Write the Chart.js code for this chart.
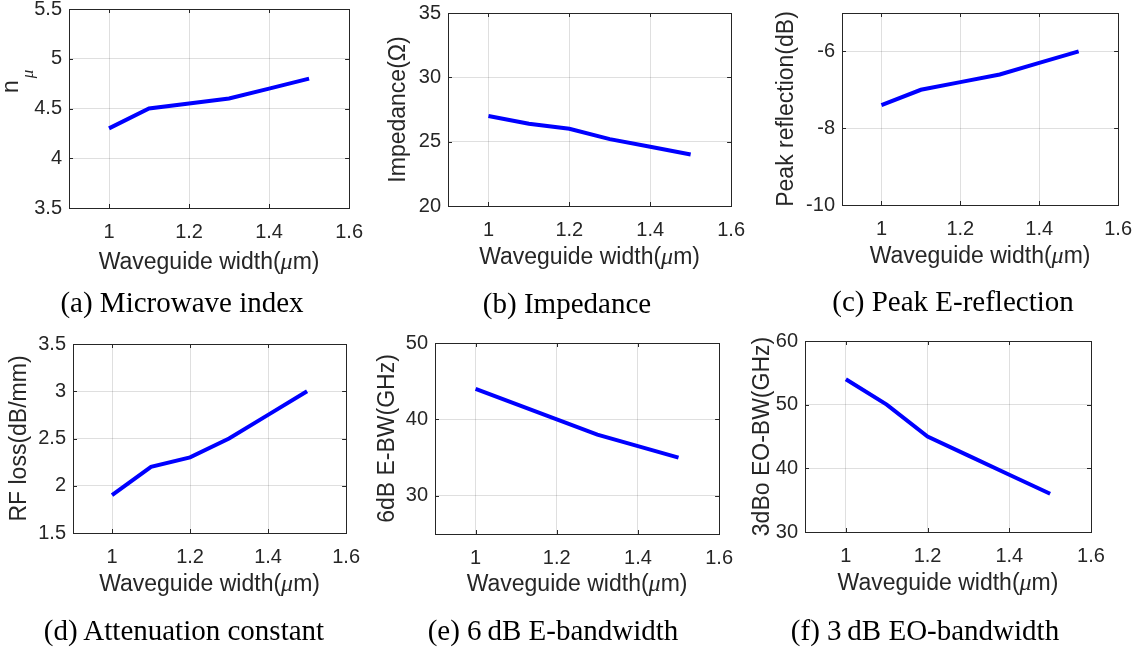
<!DOCTYPE html>
<html>
<head>
<meta charset="utf-8">
<script src="https://cdn.jsdelivr.net/npm/chart.js@4.4.0/dist/chart.umd.min.js"></script>
<style>
  body { margin: 0; background: #fff; width: 1144px; height: 654px; overflow: hidden; position: relative; }
  canvas { position: absolute; }
  .cap { position: absolute; font-family: 'Liberation Serif', 'Times New Roman', serif; font-size: 29px;
         line-height: 34px; color: #000; white-space: nowrap; transform: translate(-50%, -50%); }
</style>
</head>
<body>
<script>
var widths = [1.0, 1.1, 1.2, 1.3, 1.4, 1.5];
var xTicks = [1, 1.2, 1.4, 1.6];

var microwaveIndex = [4.3, 4.5, 4.55, 4.6, 4.7, 4.8];
var impedance = [27, 26.4, 26, 25.2, 24.6, 24];
var peakReflection = [-7.4, -7.0, -6.8, -6.6, -6.3, -6.0];
var rfLoss = [1.9, 2.2, 2.3, 2.5, 2.75, 3.0];
var eBandwidth = [44, 42, 40, 38, 36.5, 35];
var eoBandwidth = [54, 50, 45, 42, 39, 36];

var indexTicks = [3.5, 4, 4.5, 5, 5.5];
var impedanceTicks = [20, 25, 30, 35];
var reflectionTicks = [-10, -8, -6];
var lossTicks = [1.5, 2, 2.5, 3, 3.5];
var eBwTicks = [30, 40, 50];
var eoBwTicks = [30, 40, 50, 60];

var yRanges = [[3.5, 5.5], [20, 35], [-10, -5], [1.5, 3.5], [25, 50], [30, 60]];
var yTitles = ['n', 'Impedance(\u03A9)', 'Peak reflection(dB)', 'RF loss(dB/mm)', '6dB E-BW(GHz)', '3dBo EO-BW(GHz)'];
var captions = ['(a) Microwave index', '(b) Impedance', '(c) Peak E-reflection',
                '(d) Attenuation constant', '(e) 6\u2009dB E-bandwidth', '(f) 3\u2009dB EO-bandwidth'];

var series = [microwaveIndex, impedance, peakReflection, rfLoss, eBandwidth, eoBandwidth];
var yTickSets = [indexTicks, impedanceTicks, reflectionTicks, lossTicks, eBwTicks, eoBwTicks];

// page layout: canvas box + plot area (L,R,T,B) + title positions
var boxes = [
  {cx: 0,   cy: -10, w: 375, h: 300, L: 69,  R: 352,  T: 7,   B: 208, xt: 263, yt: 18,  cap: [182, 302]},
  {cx: 375, cy: -10, w: 382, h: 300, L: 448, R: 734,  T: 13,  B: 206, xt: 258, yt: 399, cap: [567, 303]},
  {cx: 757, cy: -10, w: 387, h: 300, L: 842, R: 1120, T: 13,  B: 205, xt: 257, yt: 787, cap: [953, 301]},
  {cx: 0,   cy: 320, w: 372, h: 300, L: 73,  R: 349,  T: 344, B: 533, xt: 585, yt: 20,  cap: [184, 630]},
  {cx: 372, cy: 320, w: 373, h: 300, L: 435, R: 721,  T: 343, B: 534, xt: 585, yt: 388, cap: [553, 630]},
  {cx: 745, cy: 320, w: 399, h: 300, L: 805, R: 1091, T: 341, B: 532, xt: 584, yt: 763, cap: [925, 630]}
];

var axisColor = '#262626';
var tickFont = {family: 'Liberation Sans, Arial, sans-serif', size: 20};
var titleFont = '23px "Liberation Sans", Arial, sans-serif';

function fmt(v) { return String(+v.toFixed(2)); }

// box, inward tick marks and axis titles drawn like MATLAB
var matlabAxes = {
  id: 'matlabAxes',
  afterDatasetsDraw: function (chart, args, opts) {
    var ctx = chart.ctx, a = chart.chartArea;
    var xs = chart.scales.x, ys = chart.scales.y;
    ctx.save();
    ctx.strokeStyle = axisColor;
    ctx.lineWidth = 1;
    ctx.strokeRect(Math.round(a.left) + 0.5, Math.round(a.top) + 0.5,
                   Math.round(a.right - a.left), Math.round(a.bottom - a.top));
    ctx.beginPath();
    xs.ticks.forEach(function (t) {
      var px = Math.round(xs.getPixelForValue(t.value)) + 0.5;
      ctx.moveTo(px, a.bottom); ctx.lineTo(px, a.bottom - 4);
      ctx.moveTo(px, a.top); ctx.lineTo(px, a.top + 4);
    });
    ys.ticks.forEach(function (t) {
      var py = Math.round(ys.getPixelForValue(t.value)) + 0.5;
      ctx.moveTo(a.left, py); ctx.lineTo(a.left + 4, py);
      ctx.moveTo(a.right, py); ctx.lineTo(a.right - 4, py);
    });
    ctx.stroke();

    ctx.fillStyle = axisColor;
    ctx.textBaseline = 'middle';
    // x title with italic mu
    var parts = [['Waveguide width(', titleFont], ['\u03BC', 'italic 24px "Liberation Serif", serif'], ['m)', titleFont]];
    var total = 0;
    parts.forEach(function (p) { ctx.font = p[1]; total += ctx.measureText(p[0]).width; });
    var x = (a.left + a.right) / 2 - total / 2;
    ctx.textAlign = 'left';
    parts.forEach(function (p) { ctx.font = p[1]; ctx.fillText(p[0], x, opts.xt); x += ctx.measureText(p[0]).width; });

    // y title, rotated
    ctx.translate(opts.yt, opts.sub ? opts.subY : (a.top + a.bottom) / 2);
    ctx.rotate(-Math.PI / 2);
    ctx.font = titleFont;
    if (opts.sub) {
      ctx.textBaseline = 'alphabetic';
      ctx.fillText(opts.title, 0, 0);
      var nw = ctx.measureText(opts.title).width;
      ctx.font = 'italic 17px "Liberation Serif", serif';
      ctx.fillText('\u03BC', nw + 2, 15);
    } else {
      ctx.textAlign = 'center';
      ctx.fillText(opts.title, 0, 0);
    }
    ctx.restore();
  }
};

function makePanel(i) {
  var b = boxes[i];
  var cv = document.createElement('canvas');
  cv.width = b.w; cv.height = b.h;
  cv.style.left = b.cx + 'px'; cv.style.top = b.cy + 'px';
  document.body.appendChild(cv);

  var values = series[i];
  var pts = widths.map(function (w, k) { return {x: w, y: values[k]}; });
  var yt = yTickSets[i];

  new Chart(cv.getContext('2d'), {
    type: 'line',
    data: {
      datasets: [{
        data: pts,
        borderColor: '#0000ff',
        borderWidth: 4,
        pointRadius: 0,
        tension: 0,
        borderCapStyle: 'butt',
        fill: false
      }]
    },
    options: {
      responsive: false,
      animation: false,
      events: [],
      layout: {padding: {left: 0, right: b.cx + b.w - b.R, top: b.T - b.cy, bottom: 0}},
      plugins: {
        legend: {display: false},
        tooltip: {enabled: false},
        matlabAxes: {
          xt: b.xt - b.cy,
          yt: b.yt - b.cx,
          title: yTitles[i],
          sub: i === 0,
          subY: 93 - b.cy
        }
      },
      scales: {
        x: {
          type: 'linear',
          min: 0.9, max: 1.6,
          afterBuildTicks: function (s) { s.ticks = xTicks.map(function (v) { return {value: v}; }); },
          afterFit: function (s) { s.height = b.cy + b.h - b.B; },
          grid: {color: 'rgba(38,38,38,0.15)', drawTicks: false},
          border: {display: false},
          ticks: {color: axisColor, font: tickFont, padding: 12, maxRotation: 0,
                  callback: function (v) { return fmt(v); }}
        },
        y: {
          type: 'linear',
          min: yRanges[i][0], max: yRanges[i][1],
          afterBuildTicks: function (s) { s.ticks = yt.map(function (v) { return {value: v}; }); },
          afterFit: function (s) { s.width = b.L - b.cx; },
          grid: {color: 'rgba(38,38,38,0.15)', drawTicks: false},
          border: {display: false},
          ticks: {color: axisColor, font: tickFont, padding: 7,
                  callback: function (v) { return fmt(v); }}
        }
      }
    },
    plugins: [matlabAxes]
  });

  var cap = document.createElement('div');
  cap.className = 'cap';
  cap.textContent = captions[i];
  cap.style.left = b.cap[0] + 'px';
  cap.style.top = b.cap[1] + 'px';
  document.body.appendChild(cap);
}

for (var i = 0; i < 6; i++) makePanel(i);
</script>
</body>
</html>
